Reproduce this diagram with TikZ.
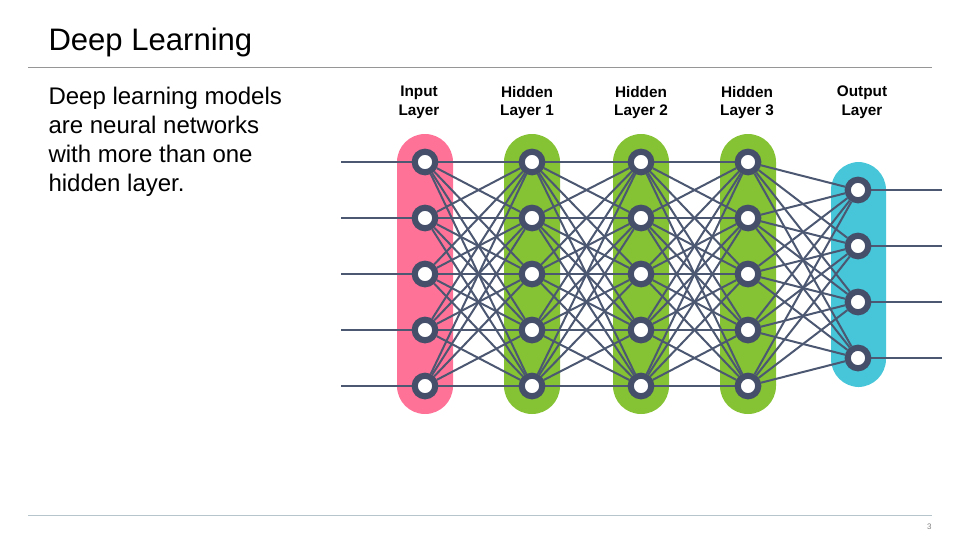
\documentclass[tikz,border=0pt]{standalone}
\usepackage{fontspec}
\setmainfont{Liberation Sans}
\usetikzlibrary{backgrounds}

\definecolor{inpink}{RGB}{255,114,152}
\definecolor{hidgreen}{RGB}{133,194,52}
\definecolor{outcyan}{RGB}{70,198,216}
\definecolor{unitedge}{RGB}{69,79,105}
\definecolor{wirecol}{RGB}{76,87,113}
\definecolor{rulegray}{RGB}{150,150,150}
\definecolor{footrule}{RGB}{182,196,204}

\tikzset{every picture/.style={line width=0.75pt}}
\tikzset{
  unit/.style={circle, draw=unitedge, line width=4.6pt, fill=white, minimum size=15.4pt, inner sep=0pt},
  wire/.style={draw=wirecol, line width=1.5pt},
  pill/.style={rounded corners=21pt},
  layerlabel/.style={align=center, font=\bfseries\fontsize{11.5}{14}\selectfont, inner sep=0.75pt},
}

\begin{document}
\begin{tikzpicture}[x=0.75pt,y=0.75pt,yscale=-1,xscale=1]
	\useasboundingbox (0,0) rectangle (960,540);
	
	% Title and rules
	\node [anchor=base west, inner sep=0pt, font=\fontsize{23.3}{28}\selectfont] (title) at (48,50) {Deep Learning};
	\draw [rulegray] (28,67) -- (932,67);
	\draw [footrule] (28,515) -- (932,515);
	\node [anchor=base east, inner sep=0pt, font=\fontsize{6}{7}\selectfont, text=gray] (pageno) at (932,529) {3};
	
	% Text Node
	\node [anchor=north west, inner sep=0pt, align=left, font=\fontsize{18}{21.75}\selectfont] (body) at (48,86.5) {Deep learning models\\are neural networks\\with more than one\\hidden layer.};
	
	% Layer labels
	\node [layerlabel] (lab0) at (419,102.5) {Input\\Layer};
	\node [layerlabel] (lab1) at (527,102.5) {Hidden\\Layer 1};
	\node [layerlabel] (lab2) at (641,102.5) {Hidden\\Layer 2};
	\node [layerlabel] (lab3) at (747,102.5) {Hidden\\Layer 3};
	\node [layerlabel] (lab4) at (862,102.5) {Output\\Layer};
	
	% Units
	\foreach \y [count=\i] in {162,218,274,330,386} {
		\node [unit] (in\i) at (425,\y) {};
		\coordinate (src\i) at (341,\y);
	}
	\foreach \x [count=\l] in {532,641,748} {
		\foreach \y [count=\i] in {162,218,274,330,386}
			\node [unit] (h\l-\i) at (\x,\y) {};
	}
	\foreach \y [count=\i] in {190,246,302,358} {
		\node [unit] (out\i) at (858,\y) {};
		\coordinate (sink\i) at (942,\y);
	}
	
	\begin{pgfonlayer}{background}
		%Shape: Capsules
		\fill [pill, inpink] (397,134) rectangle (453,414);
		\foreach \x in {532,641,748}
			\fill [pill, hidgreen] (\x-28,134) rectangle (\x+28,414);
		\fill [pill, outcyan] (831,162) rectangle (886,387);
		
		% Connections
		\foreach \i in {1,...,5} {
			\draw [wire] (src\i) -- (in\i);
			\foreach \j in {1,...,5}
				\draw [wire] (in\i) -- (h1-\j);
		}
		\foreach \l/\m in {1/2,2/3} {
			\foreach \i in {1,...,5}
				\foreach \j in {1,...,5}
					\draw [wire] (h\l-\i) -- (h\m-\j);
		}
		\foreach \i in {1,...,5} {
			\foreach \j in {1,...,4}
				\draw [wire] (h3-\i) -- (out\j);
		}
		\foreach \j in {1,...,4}
			\draw [wire] (out\j) -- (sink\j);
	\end{pgfonlayer}
	
\end{tikzpicture}
\end{document}
